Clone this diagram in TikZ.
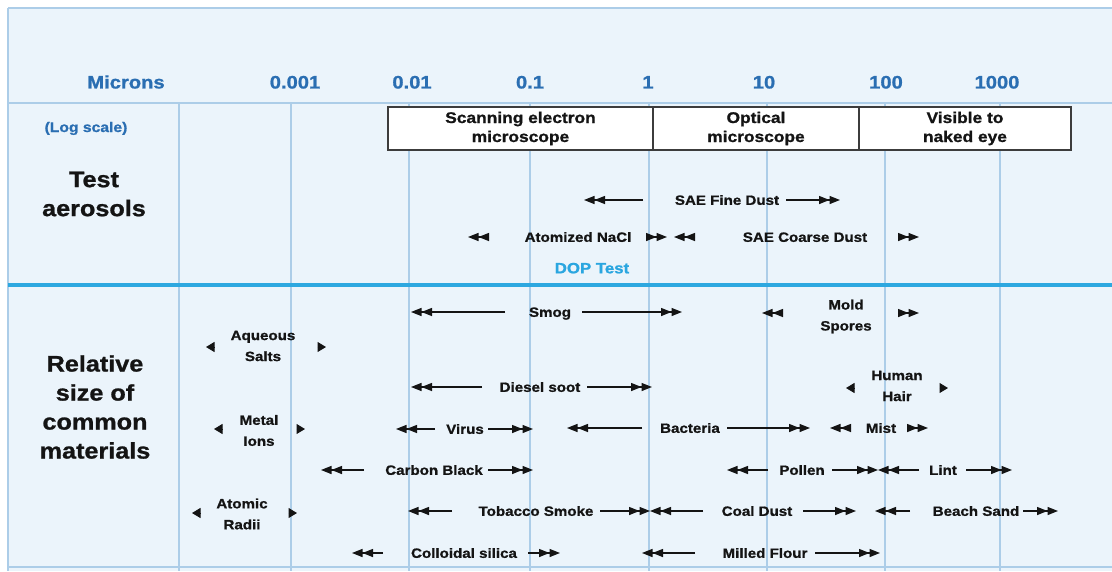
\documentclass[tikz,border=0pt]{standalone}
\usepackage{fontspec}
\setmainfont{Liberation Sans}[FakeStretch=1.12, BoldFeatures={FakeBold=1}]
\usetikzlibrary{arrows.meta}
\definecolor{bgc}{RGB}{235,244,251}
\definecolor{gridc}{RGB}{172,205,232}
\definecolor{hdrc}{RGB}{42,110,178}
\definecolor{dopc}{RGB}{42,166,224}
\definecolor{thickc}{RGB}{45,168,224}
\definecolor{boxc}{RGB}{60,60,60}
\definecolor{txtc}{RGB}{20,20,20}
\tikzset{
  dl/.style={line width=1.4pt, draw=txtc, -{Triangle[length=10.5pt,width=8pt]Triangle[length=10.5pt,width=8pt]}},
  sl/.style={line width=1pt, draw=txtc, -{Triangle[length=8.5pt,width=10pt]}},
  lbl/.style={font=\bfseries\fontsize{13.5}{16}\selectfont, text=txtc, inner sep=0pt, text height=9.7pt, text depth=0pt},
  lbl2/.style={font=\bfseries\fontsize{13.5}{21}\selectfont, text=txtc, inner sep=0pt, align=center},
  hdr/.style={font=\bfseries\fontsize{18}{21}\selectfont, text=hdrc, inner sep=0pt, text height=12.9pt, text depth=0pt},
  side/.style={font=\bfseries\fontsize{22.5}{29}\selectfont, text=txtc, inner sep=0pt, align=center},
  scopebox/.style={draw=boxc, line width=1.6pt, fill=white, inner sep=0pt, minimum height=43pt, align=center, font=\bfseries\fontsize{15.5}{19}\selectfont, text=txtc},
  gridline/.style={draw=gridc, line width=1.2pt}
}
\newcommand\rangeitem[8]{%
  \node[lbl] (#1) at (#5,#2) {#6};
  \coordinate (#1-la) at (#4,#2);
  \coordinate (#1-lb) at (#3,#2);
  \coordinate (#1-ra) at (#7,#2);
  \coordinate (#1-rb) at (#8,#2);
  \draw[dl] (#1-la) -- (#1-lb);
  \draw[dl] (#1-ra) -- (#1-rb);
}
\newcommand\pairitem[7]{%
  \node[lbl2] (#1) at (#4,#5) {#6};
  \coordinate (#1-la) at (#3+8.5,#2);
  \coordinate (#1-lb) at (#3,#2);
  \coordinate (#1-ra) at (#7-8.5,#2);
  \coordinate (#1-rb) at (#7,#2);
  \draw[sl] (#1-la) -- (#1-lb);
  \draw[sl] (#1-ra) -- (#1-rb);
}
\begin{document}
\begin{tikzpicture}[x=1pt,y=-1pt]
\useasboundingbox (0,0) rectangle (1112,571);
\fill[white] (0,0) rectangle (1112,571);
\fill[bgc] (8,8) rectangle (1112,571);
% borders and grid
\draw[gridline] (8,8) -- (1112,8);
\draw[gridline] (8,8) -- (8,571);
\draw[gridline] (8,567) -- (1112,567);
\draw[gridline] (8,103) -- (1112,103);
\foreach \gx in {179,291,409,530,649,767,885,1000} {
  \draw[gridline] (\gx,103) -- (\gx,571);
}
\draw[draw=thickc, line width=3.5pt] (8,285) -- (1112,285);
% header
\node[hdr] (microns) at (126,82) {Microns};
\node[hdr] (n1) at (295,82) {0.001};
\node[hdr] (n2) at (412,82) {0.01};
\node[hdr] (n3) at (530,82) {0.1};
\node[hdr] (n4) at (648,82) {1};
\node[hdr] (n5) at (764,82) {10};
\node[hdr] (n6) at (886,82) {100};
\node[hdr] (n7) at (997,82) {1000};
\node[font=\bfseries\fontsize{14}{16}\selectfont, text=hdrc, inner sep=0pt, text height=10pt, text depth=0pt] (logscale) at (86,127) {(Log scale)};
% microscope box
\node[scopebox, minimum width=265pt] (sem) at (520.5,128.5) {Scanning electron\\microscope};
\node[scopebox, minimum width=206pt] (opt) at (756,128.5) {Optical\\microscope};
\node[scopebox, minimum width=212pt] (vis) at (965,128.5) {Visible to\\naked eye};
% side labels
\node[side] (test) at (94,194) {Test\\aerosols};
\node[side] (rel) at (95,407) {Relative\\size of\\common\\materials};
% test aerosols
\rangeitem{fine}{200}{584}{643}{727}{SAE Fine Dust}{786}{840}
\rangeitem{nacl}{237}{468}{489}{578}{Atomized NaCl}{646}{667}
\rangeitem{coarse}{237}{674}{695}{805}{SAE Coarse Dust}{898}{919}
\node[font=\bfseries\fontsize{15}{17}\selectfont, text=dopc, inner sep=0pt, text height=10.7pt, text depth=0pt] (dop) at (592,268) {DOP Test};
% common materials
\rangeitem{smog}{312}{411}{505}{550}{Smog}{582}{682}
\node[lbl2] (mold) at (846,316.5) {Mold\\Spores};
\coordinate (mold-la) at (783,313);
\coordinate (mold-lb) at (762,313);
\coordinate (mold-ra) at (898,313);
\coordinate (mold-rb) at (919,313);
\draw[dl] (mold-la) -- (mold-lb);
\draw[dl] (mold-ra) -- (mold-rb);
\pairitem{aqueous}{347}{206}{263}{346}{Aqueous\\Salts}{326}
\rangeitem{diesel}{387}{411}{482}{540}{Diesel soot}{587}{652}
\pairitem{hair}{388}{846}{897}{386}{Human\\Hair}{948}
\pairitem{metal}{429}{214}{259}{430.5}{Metal\\Ions}{305}
\rangeitem{virus}{429}{396}{435}{465}{Virus}{488}{533}
\rangeitem{bacteria}{428}{567}{642}{690}{Bacteria}{727}{810}
\rangeitem{mist}{428}{830}{851}{881}{Mist}{907}{928}
\rangeitem{carbon}{470}{321}{364}{434}{Carbon Black}{488}{533}
\rangeitem{pollen}{470}{727}{768}{802}{Pollen}{832}{878}
\rangeitem{lint}{470}{878}{919}{943}{Lint}{966}{1012}
\pairitem{atomic}{513}{192}{242}{514}{Atomic\\Radii}{297}
\rangeitem{tobacco}{511}{408}{452}{536}{Tobacco Smoke}{600}{650}
\rangeitem{coal}{511}{650}{703}{757}{Coal Dust}{803}{856}
\rangeitem{beach}{511}{875}{910}{976}{Beach Sand}{1023}{1058}
\rangeitem{colloidal}{553}{352}{383}{464}{Colloidal silica}{528}{560}
\rangeitem{flour}{553}{642}{695}{765}{Milled Flour}{815}{880}
\end{tikzpicture}
\end{document}
